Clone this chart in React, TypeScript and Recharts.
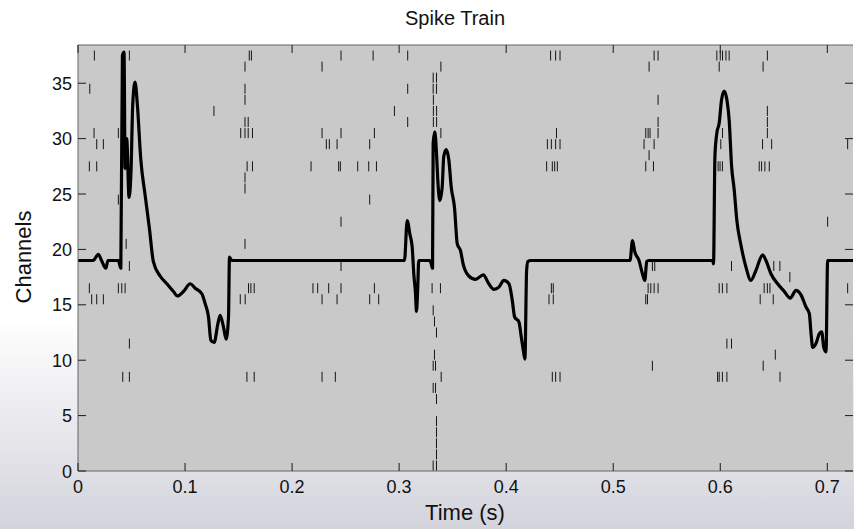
import React from "react";
import { ComposedChart, Line, Scatter, XAxis, YAxis, CartesianGrid, ReferenceLine } from "recharts";

// ---- Trace (black line) ----
const traceTimes = [
  0, 0.014, 0.019, 0.022, 0.026, 0.028, 0.0377, 0.04, 0.0415, 0.043, 0.044, 0.0455, 0.0477, 0.0496,
  0.0511, 0.0533, 0.0555, 0.0586, 0.0627, 0.0667, 0.0704, 0.0767, 0.083, 0.0892, 0.0929, 0.0985,
  0.1048, 0.1094, 0.1157, 0.1188, 0.1219, 0.1241, 0.1272, 0.1307, 0.1328, 0.1359, 0.1384, 0.1406,
  0.1415, 0.1437, 0.305, 0.3075, 0.31, 0.3122, 0.3137, 0.3153, 0.3162, 0.3174, 0.3183, 0.3286, 0.33,
  0.3312, 0.3318, 0.3333, 0.3349, 0.3361, 0.338, 0.3402, 0.3417, 0.344, 0.3464, 0.3487, 0.3517,
  0.3543, 0.3573, 0.36, 0.3651, 0.3714, 0.3786, 0.3838, 0.3885, 0.3932, 0.3979, 0.4026, 0.4057,
  0.4079, 0.4119, 0.4141, 0.416, 0.4175, 0.4191, 0.4203, 0.4228, 0.5157, 0.518, 0.5201, 0.5241,
  0.5273, 0.5295, 0.5313, 0.533, 0.5928, 0.5937, 0.595, 0.5968, 0.599, 0.6012, 0.6037, 0.6062,
  0.6083, 0.6106, 0.613, 0.6155, 0.6193, 0.624, 0.6286, 0.6333, 0.6396, 0.6427, 0.6473, 0.6536,
  0.6598, 0.6654, 0.6707, 0.6754, 0.6801, 0.6832, 0.6848, 0.6864, 0.6894, 0.6926, 0.6948, 0.6966,
  0.6988, 0.7003, 0.7035, 0.724,
];
const traceValues = [
  19, 19, 19.55, 19, 18.3, 19, 19, 18.3, 37.5, 37.8, 27.3, 30.0, 24.7, 27.3,
  33.0, 35.1, 33.0, 28.2, 24.9, 21.9, 18.9, 17.6, 16.9, 16.2, 15.8, 16.2,
  16.9, 16.5, 16.0, 15.1, 13.9, 11.8, 11.6, 13.3, 14.05, 13.0, 11.9, 13.9,
  19.3, 19, 19, 22.6, 21.4, 20.2, 17.8, 16.0, 14.4, 16.6, 19, 19, 18.7,
  18.3, 29.6, 30.6, 28.7, 26.3, 24.4, 25.6, 28.4, 29.0, 28.1, 25.6, 23.8,
  20.5, 19.9, 18.6, 17.6, 17.3, 17.7, 16.9, 16.4, 16.6, 17.2, 16.9, 15.4,
  13.9, 13.45, 12.1, 10.9, 10.1, 18.1, 18.9, 19, 19, 20.8, 19.8, 19.0,
  17.8, 17.2, 18.9, 19, 19, 18.7, 28.4, 30.5, 31.4, 33.5, 34.3, 33.5,
  31.7, 27.5, 25.4, 22.6, 20.4, 18.4, 17.2, 18.1, 19.5, 19.0, 17.8, 16.9,
  16.2, 15.6, 16.3, 15.9, 14.8, 14.2, 12.4, 11.15, 11.5, 12.4, 12.55, 11.2,
  10.75, 19.0, 19, 19,
];

// ---- Spikes: channels and the spike times on each ----
const spikeChannels = [38, 37, 36, 35, 34, 33, 32, 31, 30, 29, 28, 27, 26, 25, 23, 21, 19, 18, 17, 16, 15, 14, 13, 12, 11, 10, 9, 8, 7, 5, 4, 3, 2, 1];
const spikeTimesByChannel = [
  [0.0153, 0.048, 0.16, 0.162, 0.2457, 0.2757, 0.308, 0.4415, 0.4462, 0.4503, 0.5382, 0.5419, 0.5968, 0.6, 0.6021, 0.6053, 0.6083, 0.644],
  [0.156, 0.228, 0.339, 0.5335, 0.599, 0.64],
  [0.3318, 0.3349],
  [0.011, 0.156, 0.308, 0.3318, 0.3349],
  [0.156, 0.332, 0.5419],
  [0.127, 0.2956, 0.332, 0.335, 0.644],
  [0.156, 0.159, 0.308, 0.332, 0.335, 0.5419, 0.644],
  [0.015, 0.0377, 0.152, 0.156, 0.159, 0.163, 0.228, 0.2457, 0.2769, 0.339, 0.447, 0.5304, 0.5326, 0.5344, 0.5419, 0.6021, 0.644],
  [0.0175, 0.0237, 0.232, 0.2348, 0.242, 0.2725, 0.4385, 0.4422, 0.4462, 0.4503, 0.5288, 0.5382, 0.6005, 0.6395, 0.648, 0.719],
  [0.5335],
  [0.0106, 0.0175, 0.158, 0.163, 0.2177, 0.2435, 0.2451, 0.2613, 0.2716, 0.2788, 0.4378, 0.4431, 0.4453, 0.4478, 0.5304, 0.5376, 0.598, 0.5998, 0.602, 0.6364, 0.6386, 0.6417, 0.6458],
  [0.156],
  [0.156],
  [0.0377, 0.2725],
  [0.2457, 0.7003],
  [0.045, 0.156],
  [0.048, 0.2457, 0.5366, 0.5388, 0.6105, 0.65, 0.6557],
  [0.665],
  [0.0106, 0.0377, 0.0409, 0.044, 0.1593, 0.1615, 0.1646, 0.2195, 0.2239, 0.2342, 0.2457, 0.2769, 0.3308, 0.3386, 0.4422, 0.444, 0.5326, 0.5351, 0.5382, 0.5419, 0.599, 0.602, 0.6062, 0.641, 0.644, 0.6464, 0.719],
  [0.0128, 0.0175, 0.0237, 0.1516, 0.1562, 0.228, 0.242, 0.2725, 0.2809, 0.44, 0.444, 0.5304, 0.532, 0.6373, 0.6495],
  [0.3318],
  [0.333],
  [0.3349],
  [0.048, 0.6062, 0.6105],
  [0.333, 0.6514],
  [0.3318, 0.334, 0.5366, 0.6401],
  [0.0418, 0.048, 0.1578, 0.1646, 0.228, 0.2404, 0.3393, 0.4431, 0.4462, 0.4503, 0.5975, 0.599, 0.602, 0.6062, 0.6558],
  [0.3318, 0.334],
  [0.3349],
  [0.3349],
  [0.3349],
  [0.3349],
  [0.3349],
  [0.3318, 0.3349],
];

// ---- Axes ----
const xTicks = [0, 0.1, 0.2, 0.3, 0.4, 0.5, 0.6, 0.7];
const yTicks = [0, 5, 10, 15, 20, 25, 30, 35];
const X_MAX = 0.724;
const Y_MAX = 38.45;

const W = 854;
const H = 529;
const PLOT_LEFT = 78;
const PLOT_TOP = 45;
const PLOT_W = 775;
const PLOT_H = 426;
const TICK_LEN = 8;
const FONT = '"Liberation Sans", Arial, Helvetica, sans-serif';

const lineData = traceTimes.map((t, i) => ({ t, v: traceValues[i] }));
const spikeData = spikeChannels.flatMap((ch, i) =>
  spikeTimesByChannel[i].map((t) => ({ t, c: ch - 0.5 }))
);

const XTick = (props: any) => {
  const { x, y, payload } = props;
  return (
    <g>
      <line x1={x} x2={x} y1={y} y2={y - TICK_LEN} stroke="#1a1a1a" strokeWidth={1} />
      <line x1={x} x2={x} y1={y - PLOT_H} y2={y - PLOT_H + TICK_LEN} stroke="#1a1a1a" strokeWidth={1} />
      <text x={x} y={y + 22} textAnchor="middle" fontSize={18} fill="#111" fontFamily={FONT}>
        {String(payload.value)}
      </text>
    </g>
  );
};

const YTick = (props: any) => {
  const { x, y, payload } = props;
  return (
    <g>
      <line x1={x} x2={x + TICK_LEN} y1={y} y2={y} stroke="#1a1a1a" strokeWidth={1} />
      <line x1={x + PLOT_W - TICK_LEN} x2={x + PLOT_W} y1={y} y2={y} stroke="#1a1a1a" strokeWidth={1} />
      <text x={x - 6} y={y + 6.5} textAnchor="end" fontSize={18} fill="#111" fontFamily={FONT}>
        {String(payload.value)}
      </text>
    </g>
  );
};

const SpikeShape = (props: any) => {
  const { cx, cy } = props;
  if (cx == null || cy == null) return <g />;
  return <line x1={cx} x2={cx} y1={cy - 5} y2={cy + 5} stroke="#151515" strokeWidth={1} />;
};

export default function App() {
  return (
    <div
      style={{
        position: "absolute",
        left: 0,
        top: 0,
        width: W,
        height: H,
        background: "linear-gradient(180deg, #ffffff 0px, #ffffff 320px, #d3d3dc 529px)",
        overflow: "hidden",
      }}
    >
      <ComposedChart
        width={W}
        height={H}
        margin={{ top: PLOT_TOP, right: W - PLOT_LEFT - PLOT_W, bottom: 0, left: 0 }}
      >
        <CartesianGrid horizontal={false} vertical={false} fill="#c9c9c9" stroke="none" />
        <XAxis
          type="number"
          dataKey="t"
          domain={[0, X_MAX]}
          allowDataOverflow
          ticks={xTicks}
          interval={0}
          tickSize={0}
          tickMargin={0}
          tickLine={false}
          tick={<XTick />}
          height={H - PLOT_TOP - PLOT_H}
          axisLine={{ stroke: "#666", strokeWidth: 1 }}
        />
        <YAxis
          type="number"
          domain={[0, Y_MAX]}
          allowDataOverflow
          ticks={yTicks}
          interval={0}
          tickSize={0}
          tickMargin={0}
          tickLine={false}
          tick={<YTick />}
          width={PLOT_LEFT}
          axisLine={{ stroke: "#666", strokeWidth: 1 }}
        />
        <ReferenceLine y={Y_MAX} stroke="#666" strokeWidth={1} />
        <Scatter data={spikeData} dataKey="c" shape={SpikeShape} isAnimationActive={false} />
        <Line
          data={lineData}
          dataKey="v"
          type="monotone"
          stroke="#000"
          strokeWidth={3.2}
          strokeLinejoin="round"
          dot={false}
          activeDot={false}
          isAnimationActive={false}
        />
      </ComposedChart>
      <svg
        width={W}
        height={H}
        style={{ position: "absolute", left: 0, top: 0, pointerEvents: "none" }}
      >
        <text x={455} y={25} textAnchor="middle" fontSize={20} fill="#111" fontFamily={FONT}>
          Spike Train
        </text>
        <text x={465} y={520} textAnchor="middle" fontSize={22} fill="#111" fontFamily={FONT}>
          Time (s)
        </text>
        <text
          x={31}
          y={257}
          textAnchor="middle"
          fontSize={22}
          fill="#111"
          fontFamily={FONT}
          transform="rotate(-90 31 257)"
        >
          Channels
        </text>
      </svg>
    </div>
  );
}
